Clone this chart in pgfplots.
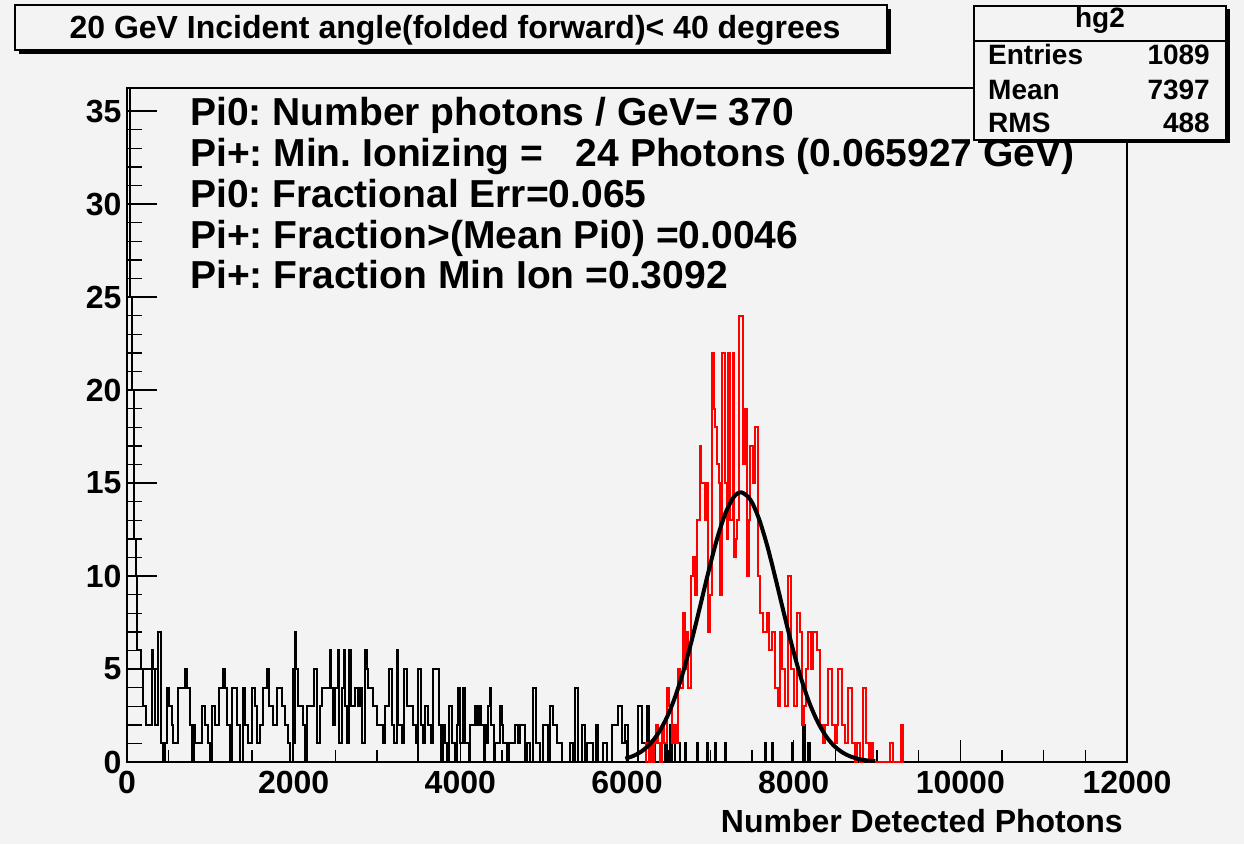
\documentclass[border=0pt]{standalone}
\usepackage{pgfplots}
\pgfplotsset{compat=1.18}
\usepackage{pgfplotstable}
\usepackage{fontspec}
\setmainfont{Liberation Sans}
\definecolor{bg}{RGB}{243,243,243}
\newcommand\fs[1]{\fontsize{#1}{#1}\selectfont\bfseries\frenchspacing}

\pgfplotstableread{
x y
0 60
30 25
64 20
84 12
104 10
124 6
164 5
196 3
228 2
296 6
316 5
340 2
376 7
404 1
436 0
456 1
476 4
500 3
540 2
556 1
616 4
656 4
696 5
724 4
756 2
776 0
800 2
816 1
896 3
936 2
976 1
996 0
1016 3
1056 2
1108 4
1156 5
1180 4
1204 2
1236 0
1256 4
1316 2
1356 0
1388 4
1416 2
1456 1
1496 4
1530 3
1556 1
1596 2
1636 4
1684 5
1708 3
1756 2
1796 4
1856 3
1896 2
1936 1
1960 0
1988 5
2004 1
2016 7
2028 5
2056 3
2116 2
2140 0
2160 3
2244 5
2276 2
2284 1
2316 3
2336 4
2436 6
2448 4
2476 2
2500 4
2536 6
2548 1
2576 4
2600 6
2616 3
2640 1
2668 6
2684 3
2736 4
2776 3
2800 4
2820 1
2856 6
2876 5
2896 4
2956 3
2996 2
3066 1
3096 3
3148 5
3176 2
3206 1
3236 6
3252 2
3300 1
3328 5
3364 3
3430 2
3468 1
3490 0
3496 5
3524 2
3550 1
3576 3
3616 2
3650 1
3668 5
3748 2
3770 0
3788 2
3816 1
3840 0
3868 3
3896 1
3930 0
3956 2
3966 4
3996 1
4028 4
4056 1
4100 0
4116 2
4176 3
4196 2
4228 3
4244 2
4280 0
4300 2
4316 1
4336 3
4356 4
4368 2
4400 0
4416 1
4476 3
4500 2
4516 1
4560 0
4580 1
4656 2
4690 1
4710 2
4776 0
4804 1
4836 0
4868 4
4908 1
4960 0
4996 2
5056 0
5076 3
5116 2
5156 1
5216 0
5316 1
5348 0
5376 4
5416 0
5456 2
5496 0
5516 1
5596 0
5628 2
5656 0
5716 1
5756 0
5816 2
5896 3
5936 1
5976 2
6016 0
6136 3
6176 1
6236 3
6260 0
6300 1
6330 0
6456 1
6480 0
6516 2
6540 0
6576 2
6600 1
6636 0
6696 1
6712 0
6836 1
6852 0
6956 1
6972 0
7056 1
7072 0
7176 1
7192 0
7656 1
7672 0
7740 1
7756 0
7976 1
7992 0
8116 2
8132 0
8176 1
8192 0
9000 0
}\blackhist

\pgfplotstableread{
x y
6229 0
6230 1
6260 0
6280 1
6300 0
6320 1
6350 2
6370 1
6400 0
6416 2
6440 1
6476 4
6500 3
6536 1
6560 2
6590 1
6616 5
6640 4
6668 8
6690 5
6708 7
6730 4
6764 10
6796 11
6816 9
6836 13
6870 17
6882 15
6930 13
6960 15
6976 7
7000 9
7016 22
7040 19
7056 18
7076 16
7100 15
7116 9
7144 22
7176 15
7196 12
7208 22
7236 13
7268 22
7284 11
7310 12
7324 13
7348 24
7388 16
7416 19
7444 10
7460 13
7476 17
7508 15
7536 18
7576 10
7596 8
7636 7
7676 8
7700 6
7740 7
7776 4
7810 3
7836 7
7860 5
7896 3
7936 10
7964 5
8000 3
8036 8
8076 7
8100 2
8124 3
8150 5
8176 7
8210 5
8236 7
8276 6
8316 2
8350 1
8376 2
8416 5
8456 2
8490 1
8516 2
8536 5
8576 2
8610 1
8656 4
8696 1
8730 0
8756 1
8800 0
8836 4
8864 1
8900 0
8930 1
8950 0
9156 1
9188 0
9288 2
9308 0
9320 0
}\redhist

\begin{document}
\begin{tikzpicture}
\fill[bg] (0pt,0pt) rectangle (1244pt,844pt);
\begin{axis}[
  at={(127pt,82pt)}, anchor=south west,
  scale only axis, width=1000pt, height=674pt,
  xmin=0, xmax=12000, ymin=0, ymax=36.24,
  axis line style={line width=1.8pt, black},
  tick align=inside, tick pos=left,
  xtick={0,2000,...,12000}, ytick={0,5,...,35},
  minor x tick num=3, minor y tick num=4,
  major tick length=30pt, minor tick length=15pt,
  xtick style={/pgfplots/major tick length=22pt,/pgfplots/minor tick length=12pt},
  every tick/.style={black, line width=1.4pt},
  scaled ticks=false,
  tick label style={font=\fs{32}},
  xticklabel style={yshift=-6pt},
  yticklabel style={xshift=-2pt},
  /pgf/number format/1000 sep={},
  /pgf/number format/assume math mode=true,
]
\addplot[black, line width=2pt, const plot] table {\blackhist};
\addplot[red, line width=2pt, const plot] table {\redhist};
\addplot[black, line width=4pt, smooth] coordinates {
(5980,0.183) (6080,0.335) (6180,0.588) (6280,0.985) (6380,1.578) (6480,2.413)
(6580,3.531) (6680,4.934) (6780,6.594) (6880,8.42) (6980,10.28) (7080,11.99)
(7180,13.36) (7280,14.24) (7370,14.5) (7480,14.11) (7580,13.12) (7680,11.67)
(7780,9.91) (7880,8.05) (7980,6.25) (8080,4.63) (8180,3.28) (8280,2.23)
(8380,1.44) (8480,0.89) (8580,0.53) (8680,0.30) (8780,0.16) (8880,0.083) (8980,0.04)};
\end{axis}
% x label
\node[anchor=base east, inner sep=0pt] at (1123pt,12pt) {\fs{32}Number Detected Photons};
% annotations
\node[anchor=base west, inner sep=0pt] at (190pt,718pt) {\fs{39}Pi0: Number photons / GeV= 370};
\node[anchor=base west, inner sep=0pt] at (190pt,677pt) {\fs{39}Pi+: Min. Ionizing =\ \ \ 24 Photons (0.065927 GeV)};
\node[anchor=base west, inner sep=0pt] at (190pt,636pt) {\fs{39}Pi0: Fractional Err=0.065};
\node[anchor=base west, inner sep=0pt] at (190pt,595pt) {\fs{39}Pi+: Fraction>(Mean Pi0) =0.0046};
\node[anchor=base west, inner sep=0pt] at (190pt,555pt) {\fs{39}Pi+: Fraction Min Ion =0.3092};
% title box
\fill[black] (19pt,790pt) rectangle (891pt,835pt);
\draw[fill=bg, line width=1.5pt] (15pt,794pt) rectangle (887pt,839pt);
\node[anchor=base, inner sep=0pt] at (455pt,805pt) {\fs{32}20 GeV Incident angle(folded forward)< 40 degrees};
% stats box
\fill[black] (978pt,701pt) rectangle (1230pt,835pt);
\draw[fill=bg, line width=1.5pt] (974pt,704pt) rectangle (1226pt,838pt);
\draw[line width=1.5pt] (974pt,803pt) -- (1226pt,803pt);
\node[anchor=base, inner sep=0pt] at (1100pt,816pt) {\fs{28}hg2};
\node[anchor=base west, inner sep=0pt] at (988pt,779pt) {\fs{28}Entries};
\node[anchor=base east, inner sep=0pt] at (1210pt,779pt) {\fs{28}1089};
\node[anchor=base west, inner sep=0pt] at (988pt,744pt) {\fs{28}Mean};
\node[anchor=base east, inner sep=0pt] at (1210pt,744pt) {\fs{28}7397};
\node[anchor=base west, inner sep=0pt] at (988pt,711pt) {\fs{28}RMS};
\node[anchor=base east, inner sep=0pt] at (1210pt,711pt) {\fs{28}488};
\end{tikzpicture}
\end{document}
